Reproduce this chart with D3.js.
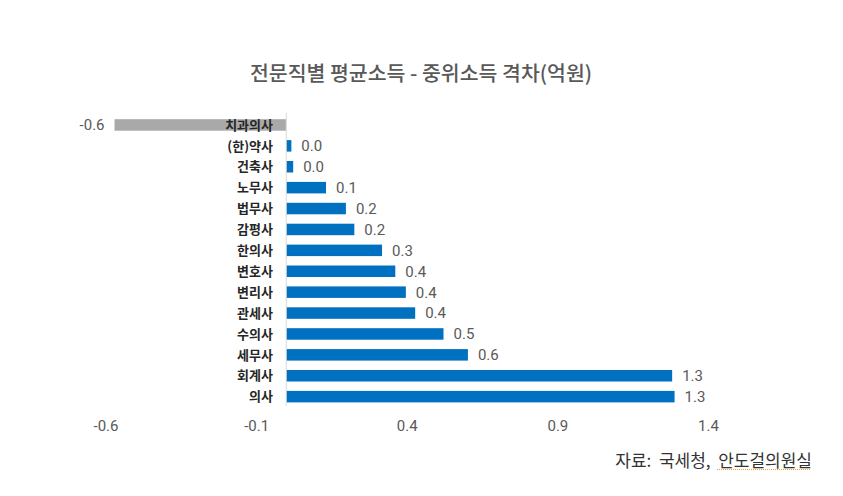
<!DOCTYPE html>
<html>
<head>
<meta charset="utf-8">
<script src="https://cdn.jsdelivr.net/npm/d3@7"></script>
<style>
    body { margin: 0; background: #fff; }
    svg { display: block; }
</style>
</head>
<body>
<div id="chart"></div>
<script>
const categories = ["치과의사", "(한)약사", "건축사", "노무사", "법무사", "감평사", "한의사", "변호사", "변리사", "관세사", "수의사", "세무사", "회계사", "의사"];
const values = [-0.57, 0.017, 0.023, 0.132, 0.198, 0.226, 0.318, 0.362, 0.397, 0.428, 0.522, 0.603, 1.281, 1.289];
const tickValues = [-0.6, -0.1, 0.4, 0.9, 1.4];
const title = "전문직별 평균소득 - 중위소득 격차(억원)";
const sourceText = "자료:  국세청,  안도걸의원실";

const W = 843, H = 496;
const krFont = "'Noto Sans CJK KR', 'Noto Sans', sans-serif";
const numFont = "Roboto, 'Noto Sans', sans-serif";

// plain hyphen for negatives, like the original
const fmt = function (v) {
    return d3.format(".1f")(v).replace("\u2212", "-");
};

const svg = d3.select("#chart").append("svg")
    .attr("width", W)
    .attr("height", H);

// x scale: -0.6 .. 1.4 spans the plot width
const x = d3.scaleLinear()
    .domain([-0.6, 1.4])
    .range([105.5, 708]);

const y = d3.scaleBand()
    .domain(categories)
    .range([114.5, 407.1])
    .paddingInner(0.45)
    .paddingOuter(0.225);

// title
svg.append("text")
    .attr("x", 421)
    .attr("y", 81)
    .attr("text-anchor", "middle")
    .style("font-family", krFont)
    .style("font-size", "20.5px")
    .style("font-weight", 500)
    .style("fill", "#595959")
    .text(title);

const data = categories.map(function (c, i) {
    return {name: c, value: values[i]};
});

// bars
svg.append("g")
    .selectAll("rect")
    .data(data)
    .enter()
    .append("rect")
    .attr("x", function (d) { return x(Math.min(0, d.value)); })
    .attr("y", function (d) { return y(d.name); })
    .attr("width", function (d) { return Math.abs(x(d.value) - x(0)); })
    .attr("height", y.bandwidth())
    .style("fill", function (d) { return d.value < 0 ? "#A9A9A9" : "#0070C0"; });

// zero line
svg.append("line")
    .attr("x1", x(0)).attr("x2", x(0))
    .attr("y1", 113).attr("y2", 406)
    .style("stroke", "#D9D9D9")
    .style("stroke-width", 1);

// category labels
svg.append("g")
    .selectAll("text")
    .data(data)
    .enter()
    .append("text")
    .attr("x", 273)
    .attr("y", function (d) { return y(d.name) + y.bandwidth() / 2; })
    .attr("dy", "0.36em")
    .attr("text-anchor", "end")
    .style("font-family", krFont)
    .style("font-size", "13px")
    .style("font-weight", 700)
    .style("fill", "#262626")
    .text(function (d) { return d.name; });

// value labels
svg.append("g")
    .selectAll("text")
    .data(data)
    .enter()
    .append("text")
    .attr("x", function (d) { return d.value < 0 ? x(d.value) - 10 : x(d.value) + 10; })
    .attr("y", function (d) { return y(d.name) + y.bandwidth() / 2; })
    .attr("dy", "0.36em")
    .attr("text-anchor", function (d) { return d.value < 0 ? "end" : "start"; })
    .style("font-family", numFont)
    .style("font-size", "15px")
    .style("fill", "#595959")
    .text(function (d) { return fmt(d.value); });

// x axis (labels only)
const axis = svg.append("g")
    .attr("transform", "translate(0,420)")
    .call(d3.axisBottom(x).tickValues(tickValues).tickSize(0).tickPadding(0).tickFormat(fmt));
axis.select(".domain").remove();
axis.selectAll("text")
    .attr("dy", "0.36em")
    .attr("y", 6)
    .style("font-family", numFont)
    .style("font-size", "15px")
    .style("fill", "#595959");

// source
svg.append("text")
    .attr("x", 812)
    .attr("y", 467)
    .attr("text-anchor", "end")
    .attr("xml:space", "preserve")
    .style("white-space", "pre")
    .style("font-family", krFont)
    .style("font-size", "17px")
    .style("fill", "#333333")
    .text(sourceText);

// dotted underline under the office name
svg.append("line")
    .attr("x1", 717).attr("x2", 811)
    .attr("y1", 469.5).attr("y2", 469.5)
    .style("stroke", "#F0A030")
    .style("stroke-width", 1)
    .style("stroke-dasharray", "1,1");
</script>
</body>
</html>
